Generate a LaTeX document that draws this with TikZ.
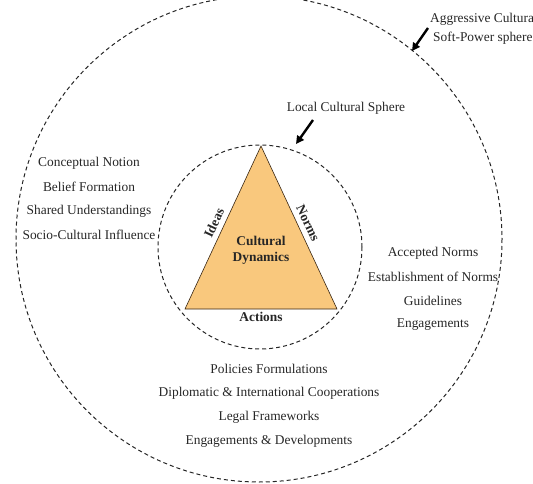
\documentclass[tikz,border=0pt]{standalone}
\usepackage{fontspec}
\setmainfont{Liberation Serif}
\usetikzlibrary{arrows.meta}
\definecolor{triorange}{RGB}{249,200,125}
\begin{document}
\begin{tikzpicture}[x=1pt,y=-1pt,
  sphere/.style={draw=black!85, line width=1pt, dash pattern=on 4pt off 3pt},
  lbl/.style={font=\fontsize{13.4}{15}\selectfont, inner sep=0pt, text=black!85},
  blbl/.style={font=\fontsize{13.4}{15}\selectfont\bfseries, inner sep=0pt, text=black!85},
  pointer/.style={line width=2.4pt, -{Triangle[length=8pt,width=8pt]}}]
\useasboundingbox (0,0) rectangle (533,484);
% spheres
\draw[sphere] (259,239) circle (243);
\draw[sphere] (260,247) circle (102);
% triangle
\coordinate (apex) at (261,146);
\coordinate (bl) at (185,309);
\coordinate (br) at (337,309);
\draw[fill=triorange, draw=black!70!brown, line width=0.6pt] (apex) -- (bl) -- (br) -- cycle;
\node[blbl] (core1) at (261,241) {Cultural};
\node[blbl] (core2) at (261,258) {Dynamics};
\node[blbl, rotate=65] (ideas) at (214,223) {Ideas};
\node[blbl, rotate=-65] (norms) at (308,223) {Norms};
\node[blbl] (actions) at (261,317) {Actions};
% sphere labels
\node[lbl, anchor=west] (agg1) at (430,19) {Aggressive Cultura};
\node[lbl, anchor=west] (agg2) at (433,38) {Soft-Power sphere};
\coordinate (aggtip) at (412,51);
\draw[pointer] (428,28) -- (aggtip);
\node[lbl] (local) at (346,108) {Local Cultural Sphere};
\coordinate (localtip) at (296,144);
\draw[pointer] (313,120) -- (localtip);
% left list
\node[lbl] (l1) at (89,163) {Conceptual Notion};
\node[lbl] (l2) at (89,187) {Belief Formation};
\node[lbl] (l3) at (89,211) {Shared Understandings};
\node[lbl] (l4) at (89,235) {Socio-Cultural Influence};
% right list
\node[lbl] (r1) at (433,253) {Accepted Norms};
\node[lbl] (r2) at (433,277) {Establishment of Norms};
\node[lbl] (r3) at (433,301) {Guidelines};
\node[lbl] (r4) at (433,325) {Engagements};
% bottom list
\node[lbl] (b1) at (269,369) {Policies Formulations};
\node[lbl] (b2) at (269,393) {Diplomatic \& International Cooperations};
\node[lbl] (b3) at (269,417) {Legal Frameworks};
\node[lbl] (b4) at (269,441) {Engagements \& Developments};
\end{tikzpicture}
\end{document}
